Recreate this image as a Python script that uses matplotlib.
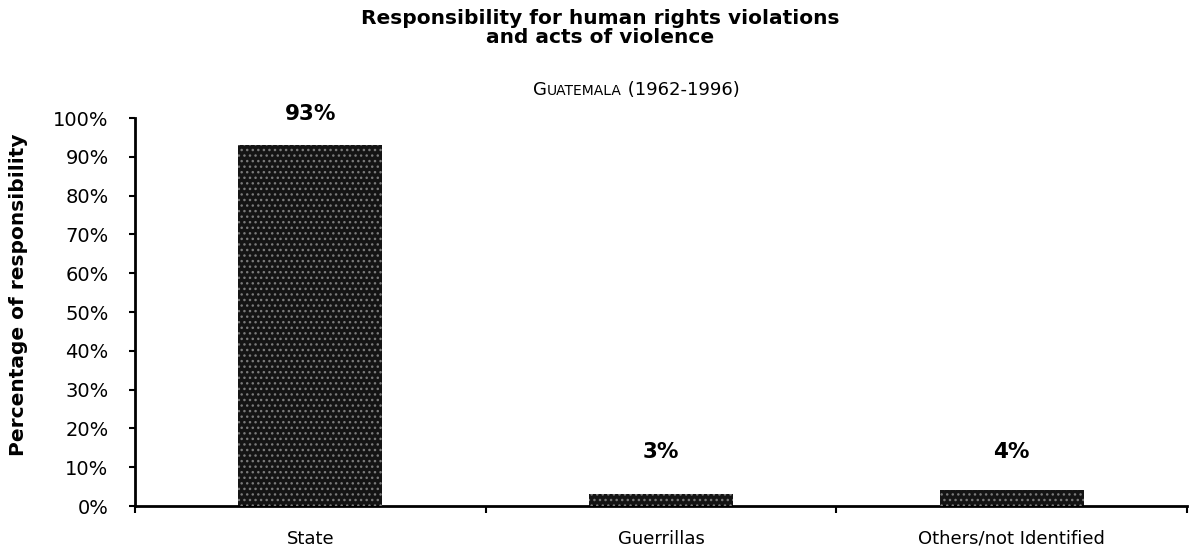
import matplotlib
matplotlib.use("Agg")
import matplotlib.pyplot as plt
import numpy as np

categories = ["State", "Guerrillas", "Others/not Identified"]
values = [93, 3, 4]
value_labels = ["93%", "3%", "4%"]
yticks = [0, 10, 20, 30, 40, 50, 60, 70, 80, 90, 100]
ytick_labels = [f"{t}%" for t in yticks]

plt.rcParams["font.family"] = "DejaVu Sans"
W, H = 1194, 548
fig = plt.figure(figsize=(W / 100, H / 100), dpi=100)
ax = fig.add_axes([135 / W, 1 - 506 / H, (1187 - 135) / W, (506 - 118) / H])

x = np.arange(len(categories))
ax.bar(x, values, width=0.41, color="#141414", edgecolor="none", zorder=2)
ax.bar(x, values, width=0.41, facecolor="none", edgecolor="#7a7a7a",
       hatch="...", linewidth=0, zorder=3)

ax.set_xlim(-0.5, len(categories) - 0.5)
ax.set_ylim(0, 100)
ax.set_yticks(yticks)
ax.set_yticklabels(ytick_labels, fontsize=14)
ax.set_xticks(x)
ax.set_xticklabels(categories, fontsize=13)
ax.tick_params(axis="x", length=0, pad=17)
ax.tick_params(axis="y", length=4, width=1.5, pad=15)
ax.set_xticks(np.arange(len(categories) + 1) - 0.5, minor=True)
ax.tick_params(axis="x", which="minor", length=5, width=1.5, direction="out")

for s in ["top", "right"]:
    ax.spines[s].set_visible(False)
for s in ["left", "bottom"]:
    ax.spines[s].set_linewidth(2)

for xi, v, lab in zip(x, values, value_labels):
    ax.text(xi, max(v + 8, 14), lab, ha="center", va="center",
            fontsize=15.5, fontweight="bold")

ax.set_ylabel("Percentage of responsibility", fontsize=14.5, fontweight="bold")
ax.yaxis.set_label_coords(-(135 - 28) / (1187 - 135), 0.5 + 17 / 388)

fig.text(600 / W, 1 - 28 / H, "Responsibility for human rights violations\nand acts of violence",
         ha="center", va="center", fontsize=14.5, fontweight="bold",
         linespacing=1.0)

# Subtitle in small caps
fig.canvas.draw()
r = fig.canvas.get_renderer()
parts = [("G", 13), ("UATEMALA", 10), (" (1962-1996)", 13)]
ybase = 1 - 95 / H
arts = []
for txt, sz in parts:
    t = fig.text(0, ybase, txt, fontsize=sz, va="baseline", ha="left")
    arts.append(t)
widths = [a.get_window_extent(r).width for a in arts]
total = sum(widths)
xpos = 636 - total / 2
for a, w in zip(arts, widths):
    a.set_x(xpos / W)
    xpos += w

fig.savefig("out.png", dpi=100)
